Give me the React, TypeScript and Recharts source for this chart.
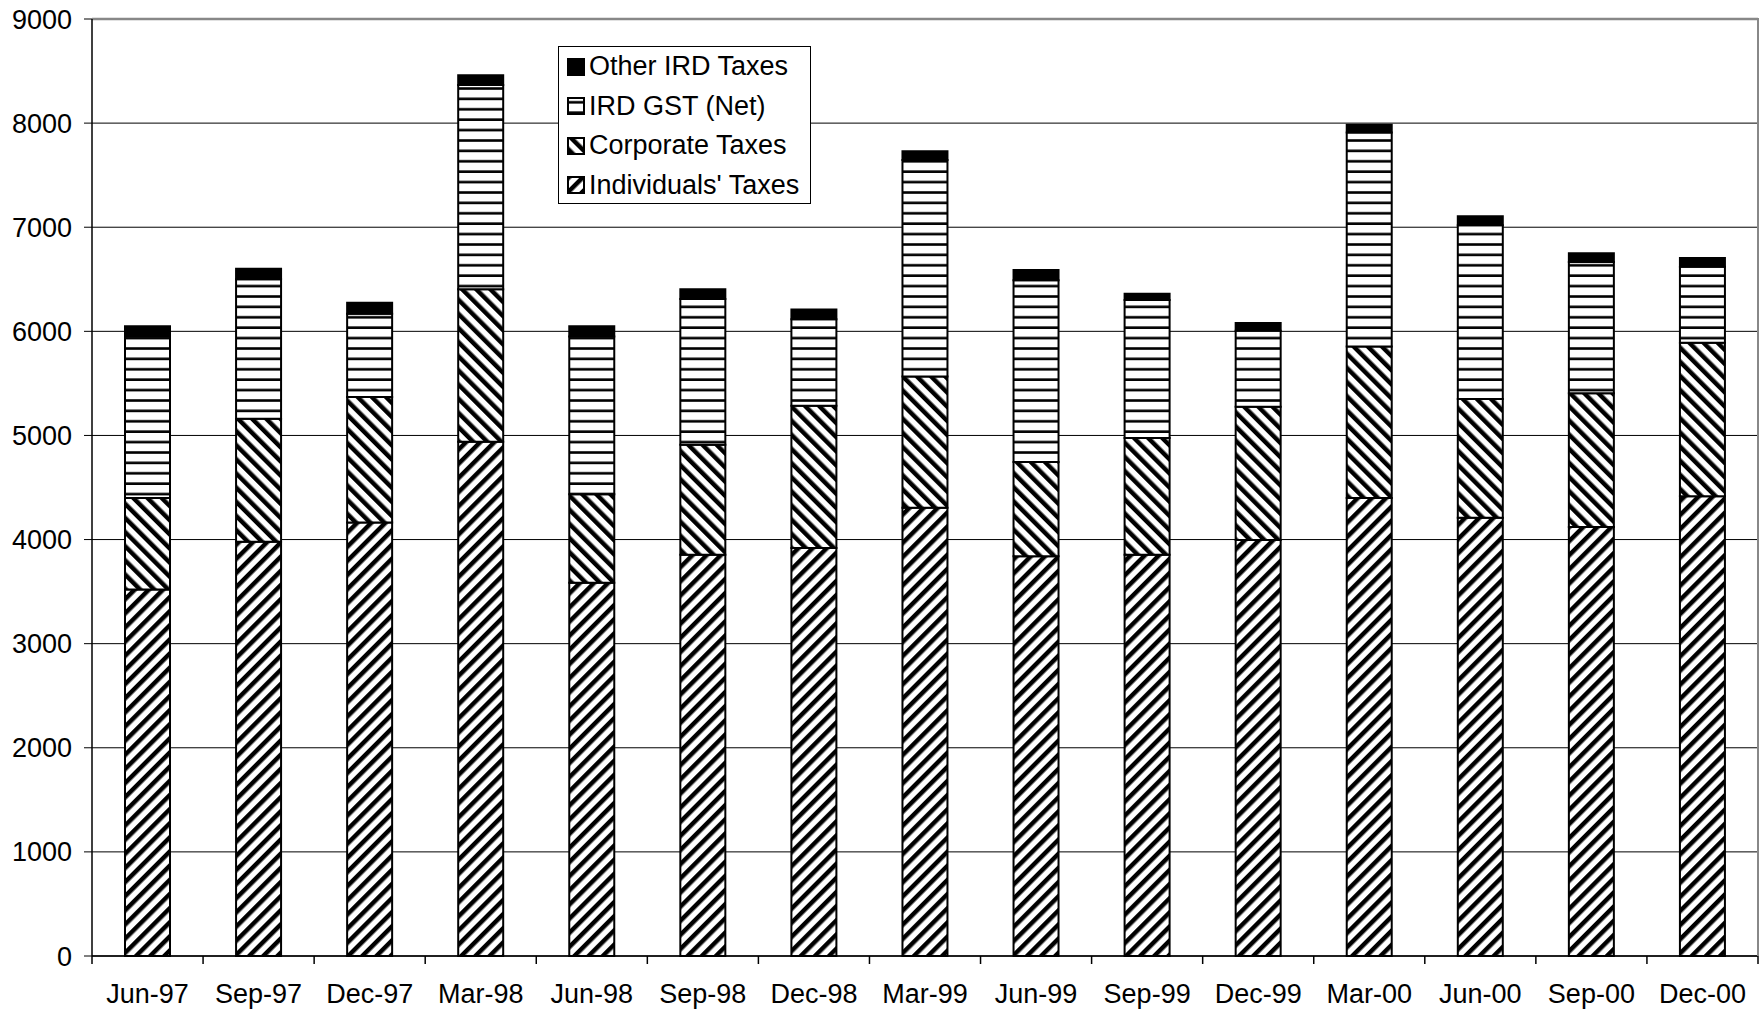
import { BarChart, Bar, XAxis, YAxis, CartesianGrid, ReferenceLine } from "recharts";

const categories = ["Jun-97", "Sep-97", "Dec-97", "Mar-98", "Jun-98", "Sep-98", "Dec-98", "Mar-99", "Jun-99", "Sep-99", "Dec-99", "Mar-00", "Jun-00", "Sep-00", "Dec-00"];
const individuals = [3520, 3980, 4165, 4940, 3585, 3855, 3920, 4305, 3840, 3855, 3995, 4400, 4210, 4120, 4415];
const corporate = [880, 1180, 1205, 1465, 850, 1055, 1365, 1260, 905, 1120, 1280, 1455, 1140, 1285, 1475];
const gst = [1550, 1340, 800, 1960, 1515, 1400, 830, 2080, 1745, 1325, 730, 2055, 1670, 1260, 730];
const other = [100, 100, 105, 95, 100, 95, 95, 85, 100, 60, 75, 75, 85, 85, 85];
const yTicks = [0, 1000, 2000, 3000, 4000, 5000, 6000, 7000, 8000, 9000];

const series = [
  { key: "individuals", name: "Individuals' Taxes", fill: "url(#indPat)" },
  { key: "corporate", name: "Corporate Taxes", fill: "url(#corpPat)" },
  { key: "gst", name: "IRD GST (Net)", fill: "url(#gstPat)" },
  { key: "other", name: "Other IRD Taxes", fill: "#000" },
];

const data = categories.map((name, i) => ({
  name,
  individuals: individuals[i],
  corporate: corporate[i],
  gst: gst[i],
  other: other[i],
}));

const W = 1759;
const H = 1013;
const PLOT_LEFT = 92;
const PLOT_RIGHT = 1758;
const catW = (PLOT_RIGHT - PLOT_LEFT) / categories.length;
const font = "Arial, 'Liberation Sans', sans-serif";
const FS = 27;

function XTick(props: any) {
  const { x, y, payload, index } = props;
  const axisY = y - 8;
  return (
    <g>
      <line x1={x - catW / 2} x2={x - catW / 2} y1={axisY} y2={axisY + 8} stroke="#000" strokeWidth={1.5} />
      {index === categories.length - 1 && (
        <line x1={x + catW / 2} x2={x + catW / 2} y1={axisY} y2={axisY + 8} stroke="#000" strokeWidth={1.5} />
      )}
      <text x={x} y={axisY + 47} textAnchor="middle" fontSize={FS} fontFamily={font} fill="#000">
        {payload.value}
      </text>
    </g>
  );
}

function Patterns() {
  return (
    <svg width={0} height={0} style={{ position: "absolute" }}>
      <defs>
        <pattern id="indPat" patternUnits="userSpaceOnUse" width={10} height={10} patternTransform="rotate(45)">
          <rect width={10} height={10} fill="#fff" />
          <rect width={4.5} height={10} fill="#000" />
        </pattern>
        <pattern id="corpPat" patternUnits="userSpaceOnUse" width={10} height={10} patternTransform="rotate(-45)">
          <rect width={10} height={10} fill="#fff" />
          <rect width={4.5} height={10} fill="#000" />
        </pattern>
        <pattern id="gstPat" patternUnits="userSpaceOnUse" width={10} height={10.4}>
          <rect width={10} height={10.4} fill="#fff" />
          <rect y={4} width={10} height={2.6} fill="#000" />
        </pattern>
      </defs>
    </svg>
  );
}

function LegendBox() {
  const items = [...series].reverse();
  return (
    <div
      style={{
        position: "absolute",
        left: 558,
        top: 46,
        width: 253,
        height: 158,
        border: "1.5px solid #000",
        background: "#fff",
        boxSizing: "border-box",
        paddingTop: 0,
        paddingLeft: 8,
      }}
    >
      {items.map((s) => (
        <div key={s.key} style={{ display: "flex", alignItems: "center", height: 39.5, fontFamily: font, fontSize: FS, color: "#000", whiteSpace: "nowrap" }}>
          <svg width={18} height={18} style={{ marginRight: 4 }}>
            <rect x={1} y={1} width={16} height={16} fill={s.fill} stroke="#000" strokeWidth={2} />
          </svg>
          <span>{s.name}</span>
        </div>
      ))}
    </div>
  );
}

export default function App() {
  return (
    <div style={{ position: "relative", width: W, height: H, background: "#fff" }}>
      <style>{`body{margin:0}`}</style>
      <Patterns />
      <BarChart width={W} height={H} data={data} margin={{ top: 19, right: W - PLOT_RIGHT, bottom: 7, left: 0 }} barSize={45}>
        <CartesianGrid vertical={false} stroke="#000" strokeWidth={1} />
        <XAxis
          dataKey="name"
          height={50}
          tickLine={false}
          tickSize={8}
          tickMargin={0}
          tick={<XTick />}
          interval={0}
          axisLine={{ stroke: "#000", strokeWidth: 1.5 }}
        />
        <YAxis
          domain={[0, 9000]}
          ticks={yTicks}
          width={92}
          tickSize={8}
          tickMargin={12}
          interval={0}
          tick={{ fontSize: FS, fontFamily: font, fill: "#000" }}
          tickLine={{ stroke: "#000", strokeWidth: 1 }}
          axisLine={{ stroke: "#000", strokeWidth: 1.5 }}
        />
        <ReferenceLine y={9000} stroke="#888" strokeWidth={2.5} />
        {series.map((s) => (
          <Bar key={s.key} dataKey={s.key} name={s.name} stackId="a" fill={s.fill} stroke="#000" strokeWidth={2} isAnimationActive={false} />
        ))}
      </BarChart>
      <div style={{ position: "absolute", left: PLOT_RIGHT - 1.5, top: 18, width: 2.5, height: 938, background: "#888" }} />
      <LegendBox />
    </div>
  );
}
